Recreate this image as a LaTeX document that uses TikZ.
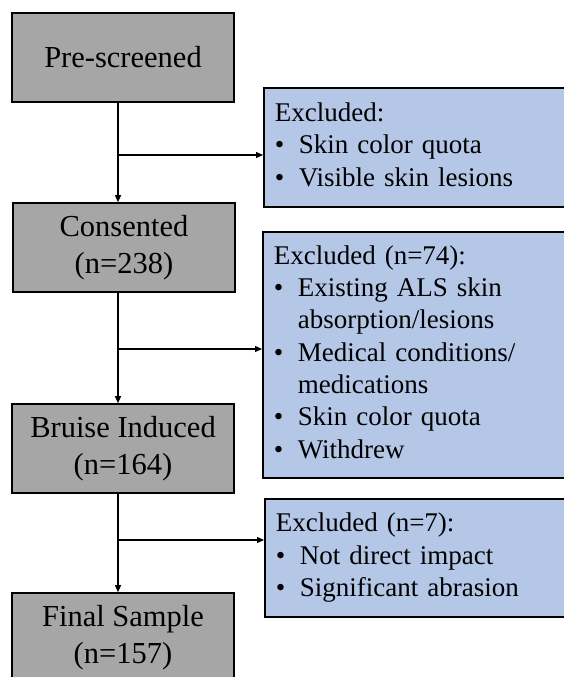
\documentclass[tikz,border=0pt]{standalone}
\usepackage{fontspec}
\setmainfont{Liberation Serif}
\usetikzlibrary{arrows.meta, positioning}
\definecolor{stagegray}{HTML}{A6A6A6}
\definecolor{exclblue}{HTML}{B4C7E7}
\newcommand{\itm}{\makebox[24pt][l]{\textbullet}}
\newcommand{\cont}{\hspace*{24pt}}

\begin{document}
\begin{tikzpicture}[x=1pt, y=-1pt,
  stage/.style={draw, line width=1.6pt, fill=stagegray, minimum width=222pt,
    minimum height=89pt, inner sep=0pt, align=center,
    font=\fontsize{30.5}{37}\selectfont},
  excl/.style={draw, line width=1.6pt, fill=exclblue, anchor=north west,
    text width=288pt, inner xsep=11pt, inner ysep=0pt, align=left,
    font=\fontsize{27}{32.3}\selectfont},
  arr/.style={line width=1.2pt, -{Triangle[length=7pt, width=6pt]}}]

  \useasboundingbox (0,0) rectangle (564,677);

  % Stages
  \node[stage] (pre)   at (123,57.5)  {Pre-screened};
  \node[stage] (cons)  at (124,247.5) {Consented\\(n=238)};
  \node[stage] (bruise) at (123,448.5) {Bruise Induced\\(n=164)};
  \node[stage] (final) at (123,637.5) {Final Sample\\(n=157)};

  % Exclusions
  \node[excl, minimum height=119pt] (ex1) at (263,87)
    {\strut Excluded:\\
     \itm Skin color quota\\
     \itm Visible skin lesions\strut};
  \node[excl, minimum height=246pt] (ex2) at (262,231)
    {\strut Excluded (n=74):\\
     \itm Existing ALS skin\\
     \cont absorption/lesions\\
     \itm Medical conditions/\\
     \cont medications\\
     \itm Skin color quota\\
     \itm Withdrew\strut};
  \node[excl, minimum height=118pt] (ex3) at (264,498)
    {\strut Excluded (n=7):\\
     \itm Not direct impact\\
     \itm Significant abrasion\strut};

  % Flow down
  \draw[arr] ([xshift=-5pt]pre.south) -- ([xshift=-5pt]pre.south |- cons.north);
  \draw[arr] ([xshift=-6pt]cons.south) -- ([xshift=-6pt]cons.south |- bruise.north);
  \draw[arr] ([xshift=-5pt]bruise.south) -- ([xshift=-5pt]bruise.south |- final.north);

  % Branches
  \coordinate (b1) at (118,155);
  \coordinate (b2) at (118,349);
  \coordinate (b3) at (118,540);
  \draw[arr] (b1) -- (b1 -| ex1.west);
  \draw[arr] (b2) -- (b2 -| ex2.west);
  \draw[arr] (b3) -- (b3 -| ex3.west);
\end{tikzpicture}
\end{document}
